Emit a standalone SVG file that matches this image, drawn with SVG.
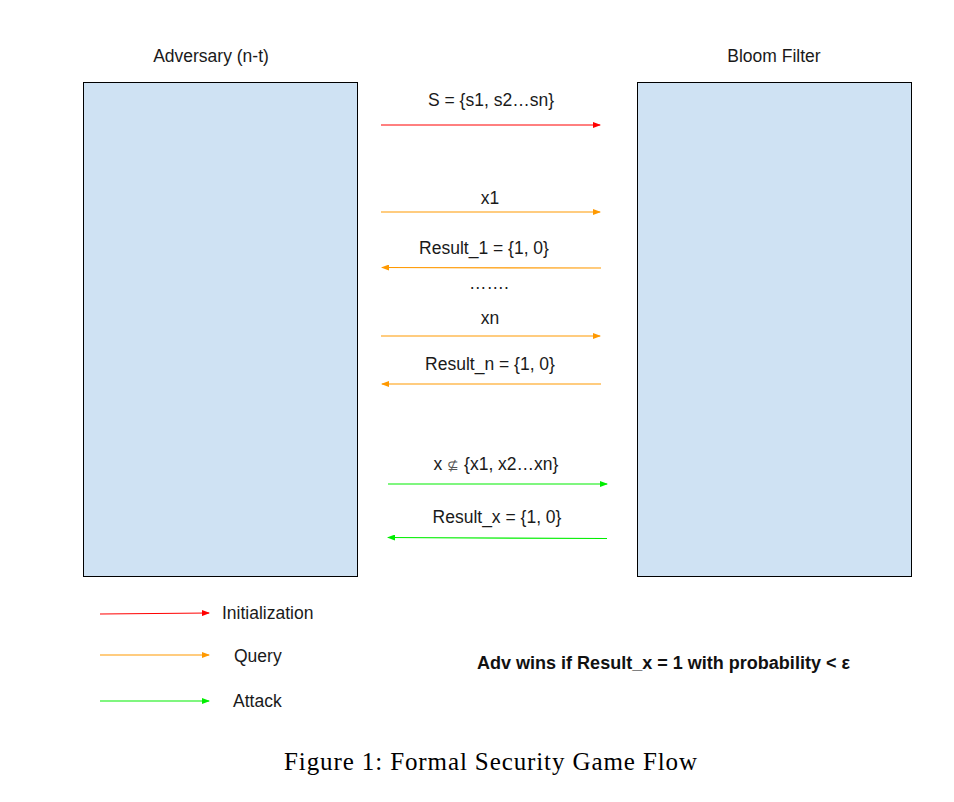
<svg xmlns="http://www.w3.org/2000/svg" width="954" height="802" viewBox="0 0 954 802">
<style>
.box{fill:#cfe2f3;stroke:#000;stroke-width:1}
.t{font-family:"Liberation Sans",Arial,sans-serif;font-size:17.5px;fill:#1a1a1a}
.red{stroke:#ff0000;stroke-width:1;fill:none}
.org{stroke:#ff9900;stroke-width:1.2;fill:none}
.grn{stroke:#00ee00;stroke-width:1.2;fill:none}
</style>
<defs>
<marker id="mr" markerWidth="8" markerHeight="6" refX="7" refY="3" orient="auto" markerUnits="userSpaceOnUse"><path d="M0,0 L8,3 L0,6 Z" fill="#ff0000"/></marker>
<marker id="mo" markerWidth="8" markerHeight="6" refX="7" refY="3" orient="auto" markerUnits="userSpaceOnUse"><path d="M0,0 L8,3 L0,6 Z" fill="#ff9900"/></marker>
<marker id="mg" markerWidth="8" markerHeight="6" refX="7" refY="3" orient="auto" markerUnits="userSpaceOnUse"><path d="M0,0 L8,3 L0,6 Z" fill="#00ee00"/></marker>
</defs>
<rect width="954" height="802" fill="#fff"/>
<g id="adversary">
<rect class="box" x="83.5" y="82.5" width="274" height="494"/>
<text class="t" x="211" y="62" text-anchor="middle">Adversary (n-t)</text>
</g>
<g id="bloom-filter">
<rect class="box" x="637.5" y="82.5" width="274" height="494"/>
<text class="t" x="774" y="62" text-anchor="middle">Bloom Filter</text>
</g>
<g id="connectors">
<line class="red" x1="381" y1="125" x2="600" y2="125" marker-end="url(#mr)"/>
<line class="org" x1="381" y1="212" x2="600" y2="212" marker-end="url(#mo)"/>
<line class="org" x1="601" y1="268" x2="382" y2="267.5" marker-end="url(#mo)"/>
<line class="org" x1="381" y1="336" x2="600" y2="336" marker-end="url(#mo)"/>
<line class="org" x1="601" y1="384" x2="382" y2="384" marker-end="url(#mo)"/>
<line class="grn" x1="388" y1="484" x2="607" y2="484" marker-end="url(#mg)"/>
<line class="grn" x1="607" y1="538.5" x2="388" y2="537.5" marker-end="url(#mg)"/>
</g>
<g id="labels">
<text class="t" x="491" y="106" text-anchor="middle">S = {s1, s2…sn}</text>
<text class="t" x="490" y="204" text-anchor="middle">x1</text>
<text class="t" x="484" y="254" text-anchor="middle">Result_1 = {1, 0}</text>
<text class="t" x="489" y="289" text-anchor="middle">…….</text>
<text class="t" x="490" y="324" text-anchor="middle">xn</text>
<text class="t" x="490" y="370" text-anchor="middle">Result_n = {1, 0}</text>
<text class="t" x="496" y="470" text-anchor="middle">x <tspan fill="#555" font-size="14">⊈</tspan> {x1, x2…xn}</text>
<text class="t" x="497" y="523" text-anchor="middle">Result_x = {1, 0}</text>
</g>
<g id="legend">
<line class="red" x1="100" y1="614" x2="209" y2="613" marker-end="url(#mr)"/>
<text class="t" x="222" y="619">Initialization</text>
<line class="org" x1="100" y1="655" x2="209" y2="655" marker-end="url(#mo)"/>
<text class="t" x="234" y="662">Query</text>
<line class="grn" x1="100" y1="701" x2="209" y2="701" marker-end="url(#mg)"/>
<text class="t" x="233" y="707">Attack</text>
</g>
<text x="477" y="669" textLength="373" lengthAdjust="spacingAndGlyphs" font-family="Liberation Sans,Arial,sans-serif" font-size="18" font-weight="bold" fill="#111">Adv wins if Result_x = 1 with probability &lt; ε</text>
<text x="284" y="770" textLength="413" lengthAdjust="spacing" font-family="'Liberation Serif','Times New Roman',serif" font-size="25">Figure 1:  Formal Security Game Flow</text>
</svg>
